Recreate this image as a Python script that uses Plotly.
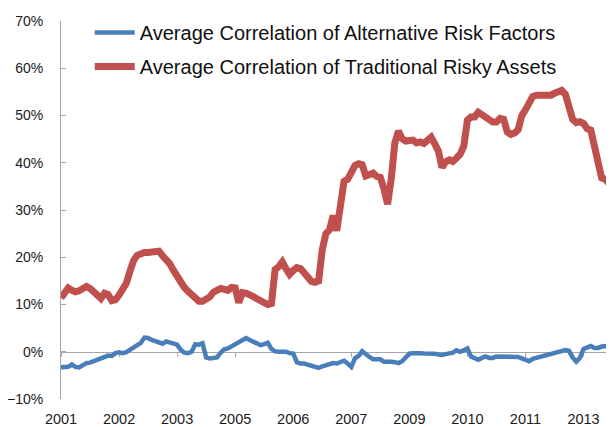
import pandas as pd
import plotly.graph_objects as go

months = [d.strftime("%Y-%m") for d in pd.date_range("2001-01-01", periods=153, freq="MS")]

alt_risk_factors = [
    -3.3, -3.3, -3.2, -2.7, -3.2, -3.3, -2.9, -2.4, -2.3, -2.0,
    -1.7, -1.4, -1.1, -0.8, -0.9, -0.3, -0.1, -0.3, -0.1, 0.4,
    0.9, 1.3, 1.9, 3.0, 2.9, 2.5, 2.2, 2.0, 1.7, 2.2,
    1.9, 1.6, 1.5, 0.4, -0.2, -0.3, 0.0, 1.6, 1.5, 1.8,
    -1.2, -1.4, -1.4, -1.2, -0.2, 0.5, 0.7, 1.1, 1.5, 2.0,
    2.5, 2.9, 2.5, 2.1, 1.6, 1.4, 1.6, 1.9, 0.6, 0.1,
    0.0, 0.0, 0.0, -0.3, -0.4, -2.2, -2.5, -2.5, -2.7, -2.9,
    -3.3, -3.4, -3.1, -2.9, -2.6, -2.4, -2.5, -2.3, -1.9, -2.5,
    -3.2, -1.4, -0.9, 0.1, -0.6, -1.1, -1.6, -1.5, -1.6, -2.1,
    -2.0, -2.1, -2.2, -2.4, -2.0, -1.3, -0.4, -0.3, -0.4, -0.3,
    -0.35, -0.3, -0.35, -0.4, -0.6, -0.7, -0.5, -0.4, -0.2, 0.3,
    0.0, 0.3, 0.7, -1.0, -1.4, -1.7, -1.3, -1.0, -1.3, -1.3,
    -1.0, -1.0, -0.9, -0.9, -1.0, -1.0, -1.1, -1.4, -1.8, -2.0,
    -1.5, -1.3, -1.1, -0.9, -0.5, -0.3, -0.2, 0.0, 0.2, 0.35,
    0.2, -1.2, -2.1, -1.3, 0.6, 1.0, 1.2, 0.8, 0.8, 1.1,
    1.2, 0.8, 1.1,
]

trad_risky_assets = [
    11.4, 12.8, 13.5, 13.0, 12.7, 12.9, 13.5, 13.8, 13.4, 12.7,
    11.8, 11.3, 12.4, 12.1, 10.8, 11.0, 12.0, 13.4, 14.5, 17.0,
    19.3, 20.4, 20.8, 21.0, 21.0, 21.1, 21.5, 21.3, 20.3, 19.5,
    18.6, 17.2, 15.8, 14.5, 13.6, 12.8, 12.0, 11.7, 10.7, 10.7,
    11.0, 11.6, 12.6, 13.1, 13.4, 13.2, 13.0, 13.6, 13.5, 10.4,
    12.5, 12.4, 12.2, 11.7, 11.2, 10.7, 10.2, 10.0, 10.2, 17.4,
    18.0, 19.0, 17.6, 16.4, 17.2, 17.8, 17.6, 16.8, 15.5, 14.9,
    14.7, 15.0, 21.6, 25.0, 25.8, 28.8, 25.6, 30.0, 36.1, 36.5,
    37.8, 39.4, 39.8, 39.6, 37.2, 37.5, 37.8, 37.1, 36.9, 34.5,
    31.2, 36.5, 44.2, 46.7, 45.1, 44.6, 44.6, 44.8, 44.2, 44.4,
    44.1, 44.7, 45.4, 44.0, 42.5, 39.0, 40.2, 40.6, 40.3, 41.0,
    41.8, 43.5, 49.0, 49.7, 49.7, 50.7, 50.1, 49.6, 49.0, 48.6,
    48.6, 49.4, 49.2, 46.5, 46.0, 46.3, 47.0, 50.0, 51.2, 52.6,
    54.0, 54.3, 54.3, 54.0, 54.1, 54.3, 54.7, 55.0, 55.3, 54.5,
    51.5, 49.2, 48.5, 48.7, 48.3, 47.2, 46.9, 44.0, 40.0, 36.8,
    36.5, 35.6, 35.5,
]

series_names = [
    "Average Correlation of Alternative Risk Factors",
    "Average Correlation of Traditional Risky Assets",
]

tick_months = months[::16]
tick_labels = ["2001", "2002", "2003", "2005", "2006", "2007", "2009", "2010", "2011", "2013"]

y_min, y_max = -10, 70

BLUE = "#4a7ebb"
RED = "#c0504d"
GRAY = "#a6a6a6"
FONT = "Liberation Sans, Arial, sans-serif"

fig = go.Figure()
fig.add_trace(go.Scatter(
    x=months, y=alt_risk_factors, name=series_names[0], mode="lines",
    line=dict(color=BLUE, width=4.5), xaxis="x", yaxis="y", legendgroup="a",
))
fig.add_trace(go.Scatter(
    x=months, y=trad_risky_assets, name=series_names[1], mode="lines",
    line=dict(color=RED, width=7), xaxis="x2", yaxis="y", legendgroup="b",
))

xrange = [0, len(months) - 0.6]
zero_pos = (0 - y_min) / (y_max - y_min)

# page body adds an 8px offset, so the figure is 8px smaller than the window
fig.update_layout(
    width=606, height=419,
    margin=dict(l=53, r=0, t=13, b=28, autoexpand=False),
    paper_bgcolor="white", plot_bgcolor="white",
    font=dict(family=FONT, color="#1a1a1a", size=14),
    showlegend=True,
    legend=dict(
        x=0.052, y=1.021, xanchor="left", yanchor="top",
        font=dict(family=FONT, size=20, color="#111111"),
        bgcolor="rgba(0,0,0,0)", borderwidth=0,
        itemwidth=40, traceorder="grouped", tracegroupgap=5,
    ),
    xaxis=dict(
        type="category", categoryorder="array", categoryarray=months,
        range=xrange, anchor="free", position=zero_pos,
        showgrid=False, zeroline=False,
        showline=True, linecolor=GRAY, linewidth=1,
        ticks="outside", ticklen=4, tickcolor=GRAY, tickwidth=1,
        tickmode="array", tickvals=tick_months, ticktext=tick_labels,
        showticklabels=False, layer="below traces",
    ),
    xaxis2=dict(
        type="category", categoryorder="array", categoryarray=months,
        range=xrange, overlaying="x", anchor="y", side="bottom",
        showgrid=False, zeroline=False, showline=False, ticks="",
        tickmode="array", tickvals=tick_months, ticktext=tick_labels,
        tickfont=dict(family=FONT, size=14.5, color="#1a1a1a"),
        ticklabelstandoff=9,
    ),
    yaxis=dict(
        range=[y_min, y_max], dtick=10, ticksuffix="%",
        showgrid=False, zeroline=False,
        showline=True, linecolor=GRAY, linewidth=1,
        ticks="inside", ticklen=5, tickcolor=GRAY, tickwidth=1,
        tickfont=dict(family=FONT, size=14, color="#1a1a1a"),
        ticklabelstandoff=14,
    ),
)

fig.write_html("out.html")
